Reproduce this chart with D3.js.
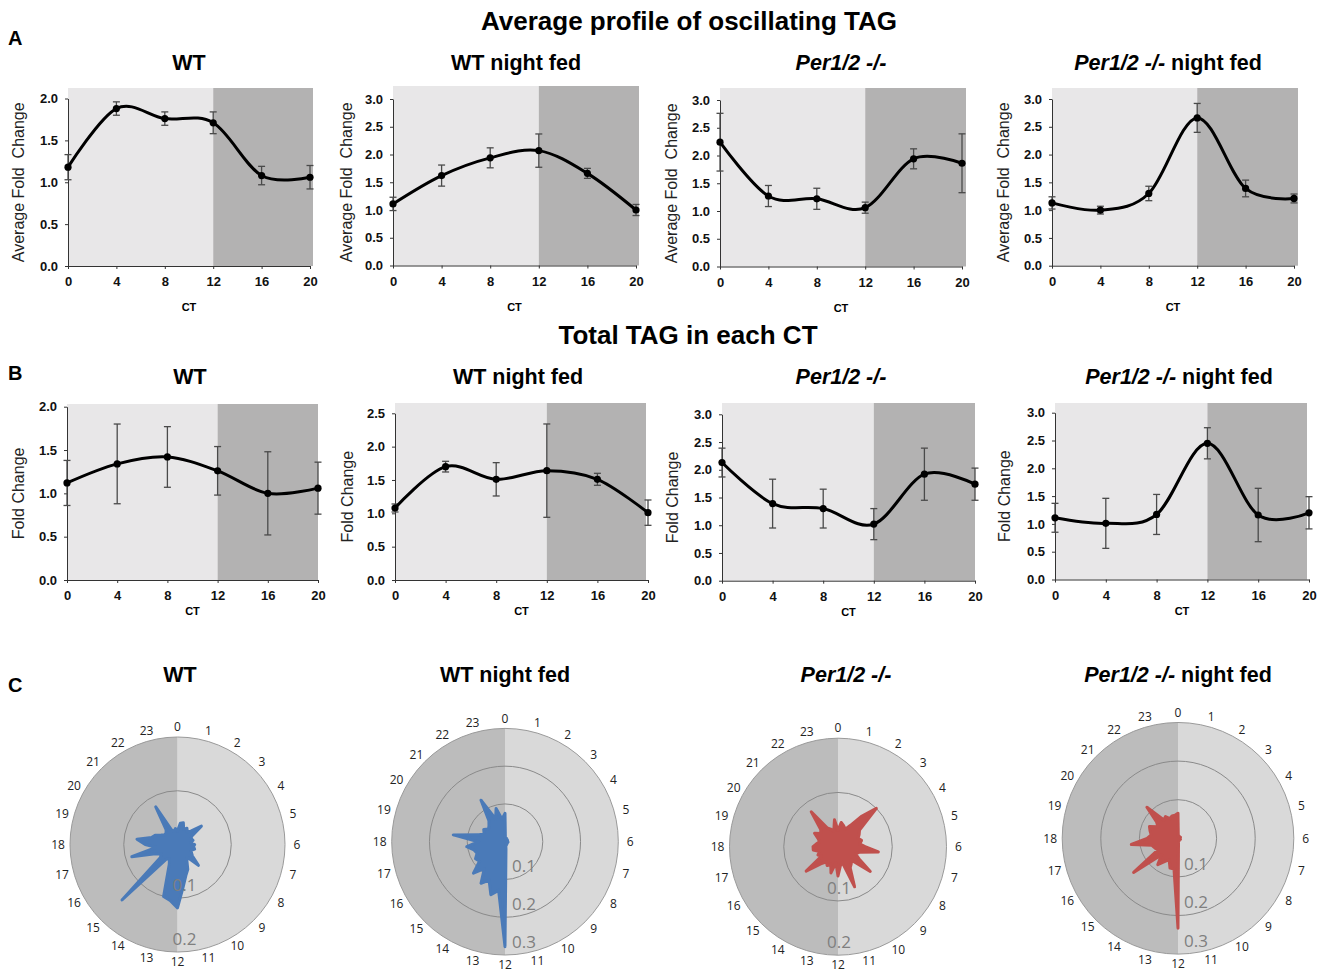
<!DOCTYPE html>
<html>
<head>
<meta charset="utf-8">
<script src="https://cdn.jsdelivr.net/npm/d3@7"></script>
<style>
  body { margin: 0; background: #fff; }
  svg { font-family: "Liberation Sans", Arial, sans-serif; }
</style>
</head>
<body>
<svg id="fig" width="1326" height="972"></svg>
<script>
// ---------------- data ----------------
var ctHours = [0, 4, 8, 12, 16, 20];
var groupNames = ["WT", "WT night fed", "Per1/2 -/-", "Per1/2 -/- night fed"];

// A: average profile of oscillating TAG (mean, sem)
var oscWT      = [1.18, 1.88, 1.76, 1.71, 1.08, 1.06];
var oscWTerr   = [0.15, 0.08, 0.08, 0.13, 0.11, 0.14];
var oscWTnf    = [1.11, 1.62, 1.94, 2.07, 1.66, 1.00];
var oscWTnfErr = [0.12, 0.19, 0.18, 0.30, 0.09, 0.10];
var oscPer     = [2.24, 1.27, 1.22, 1.06, 1.94, 1.86];
var oscPerErr  = [0.52, 0.19, 0.19, 0.10, 0.18, 0.53];
var oscPerNf   = [1.13, 1.00, 1.30, 2.66, 1.39, 1.21];
var oscPerNfErr= [0.11, 0.07, 0.13, 0.26, 0.15, 0.08];

// B: total TAG in each CT (mean, sem)
var totWT      = [1.12, 1.34, 1.42, 1.26, 1.00, 1.06];
var totWTerr   = [0.26, 0.46, 0.35, 0.28, 0.48, 0.30];
var totWTnf    = [1.08, 1.70, 1.51, 1.64, 1.51, 1.01];
var totWTnfErr = [0.06, 0.08, 0.25, 0.70, 0.09, 0.19];
var totPer     = [2.13, 1.39, 1.30, 1.02, 1.92, 1.74];
var totPerErr  = [0.26, 0.44, 0.35, 0.28, 0.47, 0.29];
var totPerNf   = [1.11, 1.01, 1.17, 2.45, 1.16, 1.20];
var totPerNfErr= [0.26, 0.45, 0.36, 0.28, 0.48, 0.29];

// C: phase distribution, one value every half hour (0, 0.5, ... 23.5)
var hourLabels = d3.range(24);
var phaseWT = [0.025,0.040,0.042,0.030,0.035,0.030,0.035,0.056,0.030,0.028,0.030,0.025,
               0.032,0.030,0.033,0.028,0.030,0.035,0.055,0.030,0.035,0.050,0.060,0.080,
               0.118,0.105,0.100,0.040,0.030,0.035,0.146,0.040,0.035,0.045,0.088,0.040,
               0.060,0.076,0.050,0.045,0.035,0.030,0.030,0.035,0.081,0.030,0.025,0.030];
var phaseWTnf = [0.075,0.008,0.006,0.010,0.005,0.007,0.006,0.008,0.005,0.006,0.007,0.005,
                 0.006,0.008,0.005,0.006,0.007,0.005,0.006,0.008,0.006,0.010,0.008,0.020,
                 0.278,0.130,0.145,0.110,0.127,0.090,0.118,0.085,0.090,0.080,0.085,0.102,
                 0.070,0.138,0.070,0.060,0.065,0.055,0.060,0.070,0.127,0.065,0.091,0.060];
var phasePer = [0.030,0.045,0.040,0.035,0.045,0.070,0.100,0.050,0.045,0.040,0.045,0.040,
                0.050,0.075,0.040,0.035,0.045,0.075,0.035,0.040,0.045,0.080,0.030,0.035,
                0.054,0.030,0.050,0.035,0.040,0.035,0.045,0.074,0.035,0.040,0.035,0.046,
                0.046,0.040,0.035,0.040,0.050,0.040,0.045,0.081,0.040,0.035,0.030,0.050];
var phasePerNf = [0.065,0.006,0.005,0.007,0.005,0.006,0.005,0.006,0.005,0.007,0.005,0.006,
                  0.005,0.006,0.005,0.007,0.005,0.006,0.005,0.006,0.005,0.007,0.006,0.010,
                  0.233,0.080,0.080,0.060,0.070,0.086,0.060,0.145,0.060,0.065,0.070,0.122,
                  0.080,0.070,0.075,0.080,0.060,0.070,0.114,0.060,0.065,0.055,0.060,0.060];

// ---------------- layout ----------------
var svg = d3.select("#fig");

var rowA = [
  {x0: 68,   x20: 310,  bgRight: 313,  yBot: 266,   yTop: 98.5,  yMax: 2,   bgTop: 88,  labelX: 18},
  {x0: 393,  x20: 636,  bgRight: 639,  yBot: 265.5, yTop: 99,    yMax: 3,   bgTop: 86,  labelX: 346},
  {x0: 720,  x20: 962,  bgRight: 966,  yBot: 266.5, yTop: 100,   yMax: 3,   bgTop: 88,  labelX: 671},
  {x0: 1052, x20: 1294, bgRight: 1298, yBot: 265.7, yTop: 99,    yMax: 3,   bgTop: 88,  labelX: 1003}
];
var rowB = [
  {x0: 67,   x20: 318,  bgRight: 318,  yBot: 580,   yTop: 406.7, yMax: 2,   bgTop: 404, labelX: 18},
  {x0: 395,  x20: 648,  bgRight: 646,  yBot: 580,   yTop: 413.3, yMax: 2.5, bgTop: 403, labelX: 347},
  {x0: 722,  x20: 975,  bgRight: 975,  yBot: 580.7, yTop: 414.3, yMax: 3,   bgTop: 403, labelX: 672},
  {x0: 1055, x20: 1309, bgRight: 1307, yBot: 579.5, yTop: 412.7, yMax: 3,   bgTop: 403, labelX: 1004}
];
var rowC = [
  {cx: 177.5, cy: 844.5, R: 107.5, max: 0.2, ringDx: -5,  color: "#4a7ab8"},
  {cx: 505,   cy: 841.7, R: 113.3, max: 0.3, ringDx: 7,   color: "#4a7ab8"},
  {cx: 838,   cy: 846.7, R: 108.5, max: 0.2, ringDx: -11, color: "#c0504d"},
  {cx: 1178,  cy: 838.3, R: 115.8, max: 0.3, ringDx: 6,   color: "#c0504d"}
];

// ---------------- headings ----------------
function heading(x, y, txt, size) {
  svg.append("text").attr("x", x).attr("y", y)
    .attr("text-anchor", "middle")
    .style("font-size", size + "px").style("font-weight", "bold")
    .text(txt);
}
function panelTitle(x, y, name) {
  var t = svg.append("text").attr("x", x).attr("y", y)
    .attr("text-anchor", "middle")
    .style("font-size", "21.5px").style("font-weight", "bold");
  if (name.indexOf("Per1/2") === 0) {
    t.append("tspan").style("font-style", "italic").text("Per1/2 -/-");
    t.append("tspan").text(name.slice(10));
  } else {
    t.text(name);
  }
}
heading(689, 30, "Average profile of oscillating TAG", 26);
heading(688, 344, "Total TAG in each CT", 26);
svg.append("text").attr("x", 8).attr("y", 45).style("font-size", "20px").style("font-weight", "bold").text("A");
svg.append("text").attr("x", 8).attr("y", 380).style("font-size", "20px").style("font-weight", "bold").text("B");
svg.append("text").attr("x", 8).attr("y", 692).style("font-size", "20px").style("font-weight", "bold").text("C");

[189, 516, 841, 1168].forEach(function(x, i) { panelTitle(x, 70, groupNames[i]); });
[190, 518, 841, 1179].forEach(function(x, i) { panelTitle(x, 384, groupNames[i]); });
[180, 505, 846, 1178].forEach(function(x, i) { panelTitle(x, 682, groupNames[i]); });

// ---------------- line panels ----------------
var blur = svg.append("defs").append("filter").attr("id", "soft");
blur.append("feGaussianBlur").attr("stdDeviation", 0.6);

function linePanel(L, means, errs, yTitle) {
  var x = d3.scaleLinear().domain([0, 20]).range([L.x0, L.x20]);
  var y = d3.scaleLinear().domain([0, L.yMax]).range([L.yBot, L.yTop]);
  var g = svg.append("g");

  // light / dark phases
  g.append("rect").attr("x", L.x0).attr("y", L.bgTop)
    .attr("width", x(12) - L.x0).attr("height", L.yBot - L.bgTop)
    .attr("fill", "#e8e7e8");
  g.append("rect").attr("x", x(12)).attr("y", L.bgTop)
    .attr("width", L.bgRight - x(12)).attr("height", L.yBot - L.bgTop)
    .attr("fill", "#b3b2b2");

  // axes
  var ya = g.append("g").attr("transform", "translate(" + L.x0 + ",0)")
    .call(d3.axisLeft(y).tickValues(d3.range(0, L.yMax + 0.01, 0.5))
      .tickFormat(d3.format(".1f")).tickSize(3).tickSizeOuter(0).tickPadding(7));
  var xa = g.append("g").attr("transform", "translate(0," + L.yBot + ")")
    .call(d3.axisBottom(x).tickValues(ctHours).tickSize(3).tickSizeOuter(0).tickPadding(8));
  [ya, xa].forEach(function(a) {
    a.selectAll("path,line").attr("stroke", "#333");
    a.selectAll("text").style("font-size", "13px").style("font-weight", "bold").attr("fill", "#111");
  });

  g.append("text").attr("x", (L.x0 + L.x20) / 2).attr("y", L.yBot + (L.yTop < 200 ? 45 : 35))
    .attr("text-anchor", "middle").style("font-size", "11px").style("font-weight", "bold").text("CT");

  g.append("text")
    .attr("transform", "translate(" + L.labelX + "," + (L.yBot + L.yTop) / 2 + ") rotate(-90)")
    .attr("text-anchor", "middle").attr("dy", "0.35em")
    .style("font-size", "16px").style("white-space", "pre").attr("fill", "#222")
    .text(yTitle);

  var pts = ctHours.map(function(h, i) { return {h: h, v: means[i], e: errs[i]}; });

  // error bars
  var eb = g.append("g").attr("stroke", "#4a4a4a").attr("stroke-width", 1.3);
  pts.forEach(function(d) {
    eb.append("line").attr("x1", x(d.h)).attr("x2", x(d.h)).attr("y1", y(d.v - d.e)).attr("y2", y(d.v + d.e));
    eb.append("line").attr("x1", x(d.h) - 3.5).attr("x2", x(d.h) + 3.5).attr("y1", y(d.v - d.e)).attr("y2", y(d.v - d.e));
    eb.append("line").attr("x1", x(d.h) - 3.5).attr("x2", x(d.h) + 3.5).attr("y1", y(d.v + d.e)).attr("y2", y(d.v + d.e));
  });

  // smoothed line
  var line = d3.line().x(function(d) { return x(d.h); }).y(function(d) { return y(d.v); })
    .curve(d3.curveCardinal.tension(0));
  g.append("path").datum(pts).attr("d", line)
    .attr("fill", "none").attr("stroke", "#000").attr("stroke-width", 3)
    .attr("filter", "url(#soft)");

  g.selectAll(".dot").data(pts).enter().append("circle")
    .attr("cx", function(d) { return x(d.h); }).attr("cy", function(d) { return y(d.v); })
    .attr("r", 3.6).attr("fill", "#000").attr("filter", "url(#soft)");
}

linePanel(rowA[0], oscWT, oscWTerr, "Average Fold  Change");
linePanel(rowA[1], oscWTnf, oscWTnfErr, "Average Fold  Change");
linePanel(rowA[2], oscPer, oscPerErr, "Average Fold  Change");
linePanel(rowA[3], oscPerNf, oscPerNfErr, "Average Fold  Change");

linePanel(rowB[0], totWT, totWTerr, "Fold Change");
linePanel(rowB[1], totWTnf, totWTnfErr, "Fold Change");
linePanel(rowB[2], totPer, totPerErr, "Fold Change");
linePanel(rowB[3], totPerNf, totPerNfErr, "Fold Change");

// ---------------- radar panels ----------------
function radarPanel(P, values) {
  var r = d3.scaleLinear().domain([0, P.max]).range([0, P.R]);
  var a = d3.scaleLinear().domain([0, 24]).range([0, 2 * Math.PI]);
  var g = svg.append("g").attr("transform", "translate(" + P.cx + "," + P.cy + ")");

  var arc = d3.arc().innerRadius(0).outerRadius(P.R);
  g.append("path").attr("d", arc({startAngle: 0, endAngle: Math.PI})).attr("fill", "#d9d9d9");
  g.append("path").attr("d", arc({startAngle: Math.PI, endAngle: 2 * Math.PI})).attr("fill", "#bcbcbc");
  g.append("circle").attr("r", P.R).attr("fill", "none").attr("stroke", "#9a9a9a").attr("stroke-width", 1);

  var rings = d3.range(0.1, P.max + 0.001, 0.1);
  g.selectAll(".ring").data(rings.slice(0, -1)).enter().append("circle")
    .attr("r", function(d) { return r(d); })
    .attr("fill", "none").attr("stroke", "#8a8a8a").attr("stroke-width", 1);

  var pts = values.map(function(v, i) { return [a(i * 0.5), r(v)]; });
  var radial = d3.lineRadial().curve(d3.curveLinearClosed);
  g.append("path").attr("d", radial(pts))
    .attr("fill", P.color).attr("stroke", P.color)
    .attr("stroke-width", 3).attr("stroke-linejoin", "round");

  g.selectAll(".rl").data(rings).enter().append("text")
    .attr("x", P.ringDx).attr("y", function(d) { return r(d) - 7; })
    .style("font-family", "'Open Sans', sans-serif").style("font-size", "17px")
    .attr("fill", "#7f7f7f")
    .text(function(d) { return d3.format(".1f")(d); });

  g.selectAll(".hl").data(hourLabels).enter().append("text")
    .attr("x", function(d) { return (P.R + 12) * Math.sin(a(d)); })
    .attr("y", function(d) { return -(P.R + 10) * Math.cos(a(d)); })
    .attr("text-anchor", "middle").attr("dy", "0.35em")
    .style("font-family", "'Open Sans', sans-serif").style("font-size", "12px")
    .attr("fill", "#222")
    .text(function(d) { return d; });
}

radarPanel(rowC[0], phaseWT);
radarPanel(rowC[1], phaseWTnf);
radarPanel(rowC[2], phasePer);
radarPanel(rowC[3], phasePerNf);
</script>
</body>
</html>
